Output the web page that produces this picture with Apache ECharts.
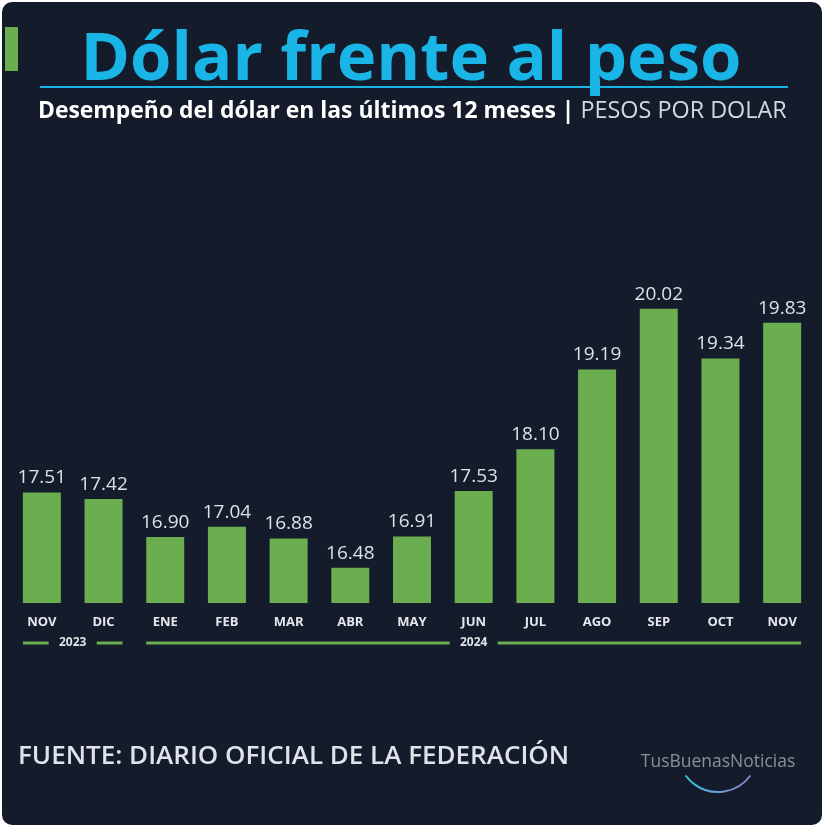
<!DOCTYPE html>
<html><head><meta charset="utf-8">
<script src="https://cdn.jsdelivr.net/npm/echarts@6/dist/echarts.min.js"></script>
<style>
html,body{margin:0;padding:0;background:#ffffff;}
#card{position:absolute;left:2px;top:2px;width:820px;height:823px;background:#141b2a;border-radius:10px;}
#main{position:absolute;left:0;top:0;width:825px;height:827px;}
</style></head>
<body><div id="card"></div><div id="main"></div>
<script>
const months = ['NOV','DIC','ENE','FEB','MAR','ABR','MAY','JUN','JUL','AGO','SEP','OCT','NOV'];
const values = [17.51,17.42,16.90,17.04,16.88,16.48,16.91,17.53,18.10,19.19,20.02,19.34,19.83];
const years = [{label:'2023', from:0, to:1},{label:'2024', from:2, to:12}];
const titleText = 'Dólar frente al peso';
const subtitleBold = 'Desempeño del dólar en las últimos 12 meses |';
const subtitleLight = 'PESOS POR DOLAR';
const sourceText = 'FUENTE: DIARIO OFICIAL DE LA FEDERACIÓN';
const logoText = 'TusBuenasNoticias';

const chart = echarts.init(document.getElementById('main'), null, {renderer:'canvas'});
const FONT = '"Open Sans", "Noto Sans", sans-serif';
const option = {
  backgroundColor: 'transparent',
  animation: false,
  grid: {left: 11, right: 12, top: 237, bottom: 224, containLabel: false},
  xAxis: {
    type: 'category', data: months,
    axisLine: {show: false}, axisTick: {show: false},
    axisLabel: {color: '#e4e7ec', fontFamily: FONT, fontWeight: 'bold', fontSize: 13, margin: 13}
  },
  yAxis: {
    type: 'value', min: 16, max: 21, show: false, splitLine: {show: false}
  },
  series: [{
    type: 'bar', data: values, barWidth: 38,
    itemStyle: {color: '#6aae4f'},
    label: {show: true, position: 'top', distance: 5, color: '#dde1e7', fontFamily: FONT, fontSize: 19,
      formatter: p => p.value.toFixed(2)}
  }]
};
chart.setOption(option);

const g = [];
// header
g.push({type:'rect', shape:{x:5, y:27, width:13, height:44}, style:{fill:'#6aae4f'}});
g.push({type:'text', x:411, y:61, style:{text:titleText, fill:'#19b5e6', font:'bold 67px ' + FONT, textAlign:'center', textVerticalAlign:'middle'}});
g.push({type:'rect', shape:{x:40, y:86, width:748, height:2}, style:{fill:'#19b5e6'}});
g.push({type:'text', x:38, y:111, style:{
  text:'{b|' + subtitleBold + '}{l| ' + subtitleLight + '}',
  textAlign:'left', textVerticalAlign:'middle',
  rich:{
    b:{fill:'#ffffff', font:'bold 22.9px ' + FONT},
    l:{fill:'#d5d9df', font:'23.4px ' + FONT}
  }}});
// footer
g.push({type:'text', x:18, y:757, style:{text:sourceText, fill:'#dfe3e9', font:'600 26px ' + FONT, textAlign:'left', textVerticalAlign:'middle'}});
g.push({type:'text', x:718, y:762, scaleX:0.92, style:{text:logoText, fill:'#8a909a', font:'19px ' + FONT, textAlign:'center', textVerticalAlign:'middle'}});
g.push({type:'arc', shape:{cx:718, cy:752, r:40, startAngle:Math.PI*0.2, endAngle:Math.PI*0.8, clockwise:true},
  style:{stroke:new echarts.graphic.LinearGradient(1,0,0,0,[{offset:0,color:'#9a78d0'},{offset:1,color:'#2fc6d8'}]), lineWidth:2, fill:null}});
// year brackets
const half = 19;
const yLine = 643;
years.forEach(yr => {
  const x0 = chart.convertToPixel({xAxisIndex:0}, yr.from) - half;
  const x1 = chart.convertToPixel({xAxisIndex:0}, yr.to) + half;
  const cx = (x0 + x1) / 2;
  const gap = 24;
  g.push({type:'rect', shape:{x:x0, y:yLine-1.5, width:(cx-gap)-x0, height:3}, style:{fill:'#6aae4f'}});
  g.push({type:'rect', shape:{x:cx+gap, y:yLine-1.5, width:x1-(cx+gap), height:3}, style:{fill:'#6aae4f'}});
  g.push({type:'text', x:cx, y:yLine, style:{text:yr.label, fill:'#dfe3e8', font:'bold 12px ' + FONT, textAlign:'center', textVerticalAlign:'middle'}});
});
chart.setOption({graphic: g});
</script></body></html>
